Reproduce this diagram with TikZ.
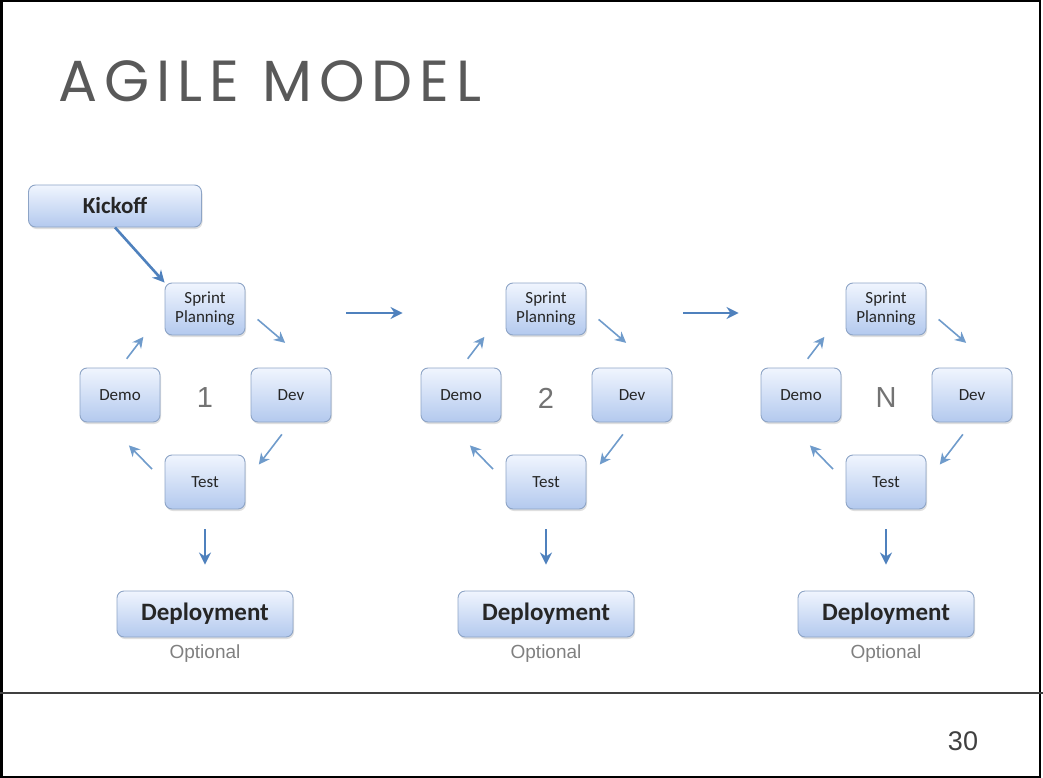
\documentclass[tikz,border=0pt]{standalone}
\usepackage{fontspec}
\setmainfont{Carlito}
\newfontfamily\arialfont{Liberation Sans}
\newfontfamily\titlefont[LetterSpace=12]{Poppins}
\usetikzlibrary{arrows.meta,shadows,positioning}

\definecolor{boxline}{HTML}{8DA4C6}
\definecolor{boxtop}{HTML}{F0F5FE}
\definecolor{boxbottom}{HTML}{B3C9EE}
\definecolor{arrowblue}{HTML}{4F81BD}
\definecolor{cycleblue}{HTML}{6F9BCB}

\tikzset{
  stage/.style={draw=boxline, line width=0.9pt, rounded corners=7pt,
    top color=boxtop, bottom color=boxbottom,
    drop shadow={shadow xshift=1pt, shadow yshift=-2pt, opacity=0.25},
    text=black!85, align=center, inner sep=0pt},
  cyclebox/.style={stage, minimum width=80pt, minimum height=52pt,
    font=\fontsize{17}{19}\selectfont},
  deploybox/.style={stage, minimum width=176pt, minimum height=46pt,
    font=\bfseries\fontsize{25}{28}\selectfont},
  cyc/.style={-{Stealth[length=11pt,width=11pt]}, cycleblue, line width=1.6pt},
  flow/.style={-{Stealth[length=12pt,width=12pt]}, arrowblue, line width=2.4pt},
}

\begin{document}
\begin{tikzpicture}[x=1pt, y=-1pt]
    % slide frame and footer rule
    \useasboundingbox (0,0) rectangle (1043,778);
    \draw[line width=2.5pt] (1.25,1.25) rectangle (1040,776.75);
    \draw[line width=1.2pt, black!75] (0,693) -- (1043,693);
    \node[anchor=base west, text=black!65, font=\titlefont\fontsize{58}{60}\selectfont] (title) at (55,102) {AGILE MODEL};
    \node[font=\arialfont\fontsize{27}{30}\selectfont, text=black!75] (page) at (963,741) {30};

    % kickoff
    \node[stage, minimum width=173pt, minimum height=42pt, font=\bfseries\fontsize{23}{25}\selectfont] (kickoff) at (115,206) {Kickoff};

    % one sprint cycle per column
    \foreach \cx/\num/\i in {205/1/a, 546/2/b, 886/N/c} {
            \node[cyclebox] (sp\i) at (\cx,309) {Sprint\\Planning};
            \node[cyclebox, minimum height=54pt] (demo\i) at (\cx-85,395) {Demo};
            \node[cyclebox, minimum height=54pt] (dev\i) at (\cx+86,395) {Dev};
            \node[cyclebox, minimum height=54pt] (test\i) at (\cx,482) {Test};
            \node[font=\arialfont\fontsize{29}{30}\selectfont, text=black!55] (num\i) at (\cx,398) {\num};
            \node[deploybox] (dep\i) at (\cx,614) {Deployment};
            \node[below=4pt of dep\i, font=\arialfont\fontsize{19}{21}\selectfont, text=black!50] (opt\i) {Optional};

            \draw[cyc, shorten <=16pt, shorten >=38pt] (sp\i.east) -- (dev\i.50);
            \draw[cyc, shorten <=15pt, shorten >=22pt] (dev\i.south) -- (test\i.east);
            \draw[cyc, shorten <=18pt, shorten >=32pt] (test\i.west) -- (demo\i.244);
            \draw[cyc, shorten <=11pt, shorten >=35pt] (demo\i.north) -- (sp\i.west);
            \draw[flow, line width=2pt, shorten <=20pt, shorten >=26pt] (test\i.south) -- (dep\i.north);
        }

    % links between sprints
    \draw[flow, line width=2.6pt] (kickoff.south) -- (spa.north west);
    \draw[flow, shorten <=101pt, shorten >=103pt] ([yshift=-4pt]spa.east) -- ([yshift=-4pt]spb.west);
    \draw[flow, shorten <=97pt, shorten >=107pt] ([yshift=-4pt]spb.east) -- ([yshift=-4pt]spc.west);
\end{tikzpicture}
\end{document}
